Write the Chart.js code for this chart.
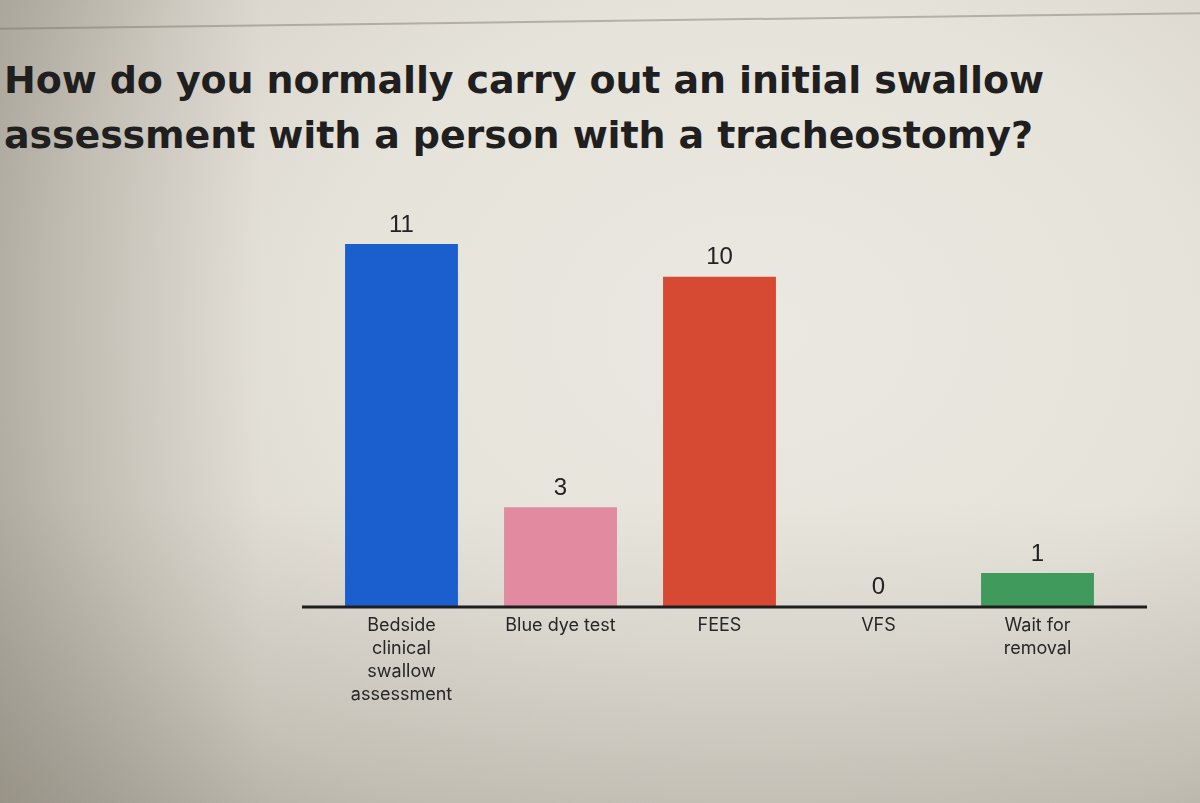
<!DOCTYPE html>
<html>
<head>
<meta charset="utf-8">
<script src="https://cdn.jsdelivr.net/npm/chart.js@4/dist/chart.umd.min.js"></script>
<style>
  html, body { margin: 0; padding: 0; width: 1200px; height: 803px; overflow: hidden; }
  body {
    background:
      linear-gradient(90deg, rgba(120,114,102,0.35) 0px, rgba(120,114,102,0.0) 260px),
      linear-gradient(180deg, rgba(120,114,102,0.0) 500px, rgba(120,114,102,0.25) 803px),
      radial-gradient(ellipse 950px 720px at 760px 330px, #ebe8e1 0%, #e6e3db 45%, #d9d5cc 75%, #b9b4a9 105%);
    position: relative;
  }
  #topline {
    position: absolute; left: -10px; top: 28px; width: 1230px; height: 2px;
    background: rgba(120,115,105,0.45); transform: rotate(-0.75deg); transform-origin: left center;
  }
  .tl {
    position: absolute; left: 4px;
    font-family: "DejaVu Sans", "Inter", sans-serif; font-weight: 700;
    font-size: 38px; line-height: 56px; color: #1f1f1f;
    white-space: nowrap;
  }
  #t1 { top: 52px; }
  #t2 { top: 107px; }
  #wrap { position: absolute; left: 0; top: 0; width: 1200px; height: 803px; }
</style>
</head>
<body>
<div id="topline"></div>
<div class="tl" id="t1">How do you normally carry out an initial swallow</div>
<div class="tl" id="t2">assessment with a person with a tracheostomy?</div>
<div id="wrap"><canvas id="c"></canvas></div>
<script>
const titleLines = ["How do you normally carry out an initial swallow", "assessment with a person with a tracheostomy?"];
const categories = [
  ["Bedside", "clinical", "swallow", "assessment"],
  ["Blue dye test"],
  ["FEES"],
  ["VFS"],
  ["Wait for", "removal"]
];
const values = [11, 3, 10, 0, 1];
const barColors = ["#1b5fcf", "#e28a9f", "#d64a34", "#8a8a8a", "#3f9a5b"];

// fit title line 1 to the reference width (~1040px); apply same spacing to line 2
(function () {
  const t1 = document.getElementById('t1'), t2 = document.getElementById('t2');
  const w = t1.getBoundingClientRect().width;
  const n = titleLines[0].length - 1;
  const ls = (1040 - w) / n;
  t1.style.letterSpacing = ls + 'px';
  t2.style.letterSpacing = ls + 'px';
})();

const valueLabels = {
  id: 'valueLabels',
  afterDatasetsDraw(chart) {
    const ctx = chart.ctx;
    const meta = chart.getDatasetMeta(0);
    ctx.save();
    ctx.font = '24px "Liberation Sans", Arial, sans-serif';
    ctx.fillStyle = '#222';
    ctx.textAlign = 'center';
    ctx.textBaseline = 'bottom';
    meta.data.forEach((bar, i) => {
      ctx.fillText(String(values[i]), bar.x, bar.y - 7);
    });
    ctx.restore();
  }
};

const baseLine = {
  id: 'baseLine',
  afterDatasetsDraw(chart) {
    const ctx = chart.ctx;
    const a = chart.chartArea;
    const y = chart.scales.y.getPixelForValue(0);
    ctx.save();
    ctx.strokeStyle = '#1e1e1e';
    ctx.lineWidth = 3;
    ctx.beginPath();
    ctx.moveTo(a.left - 20, y + 1);
    ctx.lineTo(a.right + 30, y + 1);
    ctx.stroke();
    ctx.restore();
  }
};

new Chart(document.getElementById('c'), {
  type: 'bar',
  data: {
    labels: categories,
    datasets: [{
      data: values,
      backgroundColor: barColors,
      borderWidth: 0,
      barPercentage: 0.71,
      categoryPercentage: 1.0
    }]
  },
  options: {
    responsive: true,
    maintainAspectRatio: false,
    animation: false,
    layout: { padding: { left: 322, right: 83, top: 211, bottom: 67 } },
    plugins: { legend: { display: false }, tooltip: { enabled: false }, title: { display: false } },
    scales: {
      y: { display: false, min: 0, max: 12 },
      x: {
        grid: { display: false },
        border: { display: false },
        ticks: {
          color: '#262626',
          font: { family: '"Inter", "Liberation Sans", sans-serif', size: 18, lineHeight: 1.28 },
          padding: 0,
          maxRotation: 0,
          autoSkip: false
        },
        afterFit(scale) { scale.height = 130; }
      }
    }
  },
  plugins: [valueLabels, baseLine]
});
</script>
</body>
</html>
